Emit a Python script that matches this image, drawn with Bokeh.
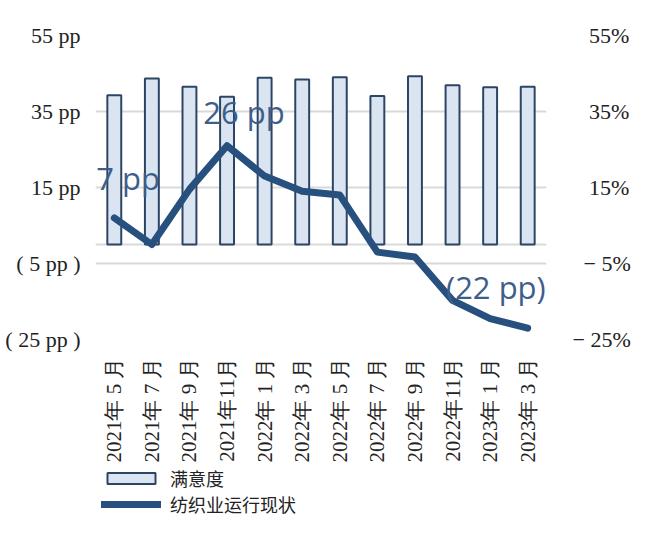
import math
from bokeh.plotting import figure
from bokeh.layouts import column
from bokeh.models import (FactorRange, Range1d, LinearAxis, FixedTicker,
                          Legend, LegendItem, Label, BoxAnnotation)
from bokeh.embed import file_html
from bokeh.resources import INLINE

categories = ["2021年 5 月", "2021年 7 月", "2021年 9 月", "2021年11月", "2022年 1 月", "2022年 3 月",
              "2022年 5 月", "2022年 7 月", "2022年 9 月", "2022年11月", "2023年 1 月", "2023年 3 月"]
satisfaction = [39.3, 43.7, 41.5, 38.9, 43.9, 43.4, 44.0, 39.1, 44.3, 41.9, 41.4, 41.5]
textile = [7, 0, 14.5, 26, 18, 14, 13, -2, -3.3, -14.7, -19.5, -22]
label_idx = [0, 3, 11]
label_text = ["7 pp", "26 pp", "(22 pp)"]
ticks = [-25, -5, 15, 35, 55]
left_labels = ["( 25 pp )", "( 5 pp )", "15 pp", "35 pp", "55 pp"]
right_labels = ["− 25%", "\u2007− 5%", "\u2007\u200815%", "\u2007\u200835%", "\u2007\u200855%"]
legend_labels = ["满意度", "纺织业运行现状"]

LINE = "#28507f"
LABEL = "#3d5e8b"
BAR_FILL = "#dbe4f1"
BAR_LINE = "#2c4565"
GRID = "#d9d9d9"
SERIF = "Liberation Serif"

p = figure(width=646, height=466, x_range=FactorRange(*categories, range_padding=0),
           y_range=Range1d(-25, 55), output_backend="svg", toolbar_location=None,
           min_border_left=95, min_border_right=100, min_border_top=35, min_border_bottom=127)
p.outline_line_color = None
p.background_fill_color = "white"
p.border_fill_color = "white"

p.vbar(x=categories, top=satisfaction, bottom=0, width=0.37,
       fill_color=BAR_FILL, line_color=BAR_LINE, line_width=2)
p.line(x=categories, y=textile, line_color=LINE, line_width=7,
       line_join="round", line_cap="round")

# data labels; a factor's centre on an unpadded FactorRange is its index + 0.5
label_style = [("left", -18, 40), ("center", 17, 34), ("right", 18, 41)]
for i, t, (al, dx, dy) in zip(label_idx, label_text, label_style):
    p.add_layout(Label(x=i + 0.5, y=textile[i], x_offset=dx, y_offset=dy, text=t,
                       text_font="Open Sans", text_font_size="31px", text_color=LABEL,
                       text_align=al, text_baseline="middle"))

# grid
p.xgrid.visible = False
p.ygrid.ticker = FixedTicker(ticks=ticks + [0])
p.ygrid.grid_line_color = GRID
p.ygrid.grid_line_width = 2

# left axis
ya = p.yaxis[0]
ya.ticker = FixedTicker(ticks=ticks)
ya.major_label_overrides = {t: l for t, l in zip(ticks, left_labels)}
ya.axis_line_color = None
ya.major_tick_line_color = None
ya.minor_tick_line_color = None
ya.major_label_text_font = SERIF
ya.major_label_text_font_size = "22px"
ya.major_label_text_color = "#222222"
ya.major_label_standoff = 9

# right axis
ra = LinearAxis(ticker=FixedTicker(ticks=ticks))
ra.major_label_overrides = {t: l for t, l in zip(ticks, right_labels)}
ra.axis_line_color = None
ra.major_tick_line_color = None
ra.minor_tick_line_color = None
ra.major_label_text_font = SERIF
ra.major_label_text_font_size = "22px"
ra.major_label_text_color = "#222222"
ra.major_label_standoff = 20
p.add_layout(ra, "right")

# x axis
xa = p.xaxis[0]
xa.axis_line_color = None
xa.major_tick_line_color = None
xa.minor_tick_line_color = None
xa.major_label_orientation = math.pi / 2
xa.major_label_text_font = SERIF
xa.major_label_text_font_size = "21px"
xa.major_label_text_color = "#222222"
xa.major_label_standoff = 12

# legend strip below the chart; its proxy glyphs are hidden under a white box
p2 = figure(width=646, height=51, output_backend="svg", toolbar_location=None,
            x_axis_type=None, y_axis_type=None, min_border=0,
            x_range=FactorRange(*categories), y_range=Range1d(1000, 1001))
p2.outline_line_color = None
p2.xgrid.visible = False
p2.ygrid.visible = False
lb = p2.vbar(x=categories, top=satisfaction, bottom=0, width=0.37,
             fill_color=BAR_FILL, line_color=BAR_LINE, line_width=2)
ll = p2.line(x=categories, y=textile, line_color=LINE, line_width=7, line_cap="round")
p2.add_layout(BoxAnnotation(fill_color="white", fill_alpha=1.0, line_alpha=0, level="guide"))
legend = Legend(items=[LegendItem(label=legend_labels[0], renderers=[lb]),
                       LegendItem(label=legend_labels[1], renderers=[ll])],
                location=(6, 0), orientation="vertical",
                glyph_width=60, glyph_height=14, label_height=20, spacing=0,
                label_standoff=9, padding=0, margin=0,
                border_line_color=None, background_fill_alpha=0,
                label_text_font="Noto Sans CJK SC", label_text_font_size="18px",
                label_text_color="#222222")
p2.add_layout(legend, "center")

layout = column(p, p2, spacing=0)
open("out.html", "w").write(file_html(layout, INLINE))
